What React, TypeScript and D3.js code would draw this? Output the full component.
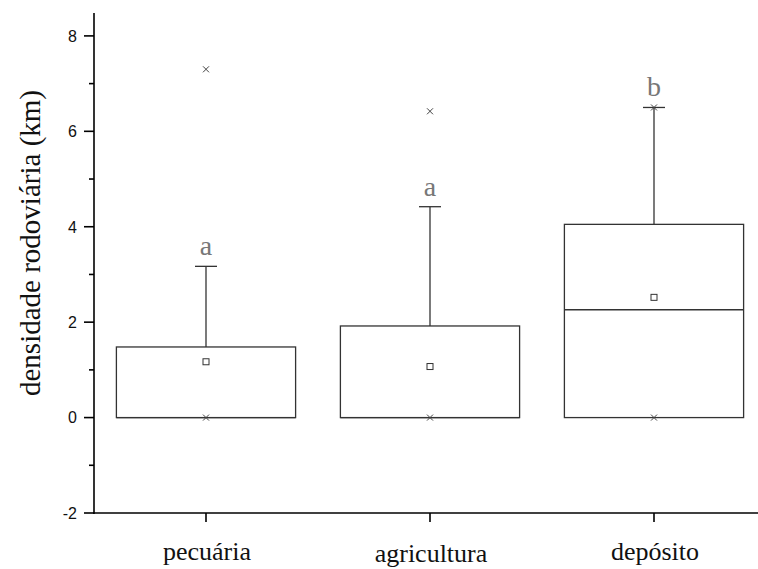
import { scaleBand, scaleLinear } from 'd3'

const categories = ['pecuária', 'agricultura', 'depósito']
const q1 = [0, 0, 0]
const medians = [0, 0, 2.26]
const q3 = [1.48, 1.92, 4.05]
const whiskerLow = [0, 0, 0]
const whiskerHigh = [3.17, 4.42, 6.5]
const means = [1.17, 1.07, 2.52]
const outliers = [[7.3, 0], [6.42, 0], [6.5, 0]]
const letters = ['a', 'a', 'b']
const majorTicks = [-2, 0, 2, 4, 6, 8]
const minorTicks = [-1, 1, 3, 5, 7]

const App = () => {
  const width = 758
  const height = 569

  const x = scaleBand().domain(categories).range([94, 766]).padding(0)
  const y = scaleLinear().domain([-2, 8.48]).range([513, 13])
  const boxW = x.bandwidth() * 0.8
  const capW = 22
  const serif = "'Liberation Serif', 'Times New Roman', serif"
  const sans = "'Liberation Sans', Arial, sans-serif"

  return (
    <svg width={width} height={height} style={{ position: 'absolute', left: 0, top: 0 }}>
      <rect width={width} height={height} fill="#fff" />

      {/* y axis */}
      <line x1={94} x2={94} y1={y(8.48)} y2={y(-2) + 1} stroke="#000" strokeWidth={1.6} />
      {majorTicks.map(t => (
        <g key={t}>
          <line x1={84} x2={94} y1={y(t)} y2={y(t)} stroke="#000" strokeWidth={1.6} />
          <text x={77} y={y(t)} dy="0.36em" textAnchor="end" fontFamily={sans} fontSize={16} fill="#111">
            {t}
          </text>
        </g>
      ))}
      {minorTicks.map(t => (
        <line key={t} x1={89} x2={94} y1={y(t)} y2={y(t)} stroke="#000" strokeWidth={1.6} />
      ))}
      <text
        transform={`translate(30,243) rotate(-90)`}
        textAnchor="middle"
        dy="0.35em"
        fontFamily={serif}
        fontSize={29}
        fill="#111"
      >
        densidade rodoviária (km)
      </text>

      {/* x axis */}
      <line x1={93} x2={width} y1={y(-2)} y2={y(-2)} stroke="#000" strokeWidth={1.6} />
      {categories.map(c => {
        const cx = x(c)! + x.bandwidth() / 2
        return (
          <g key={c}>
            <line x1={cx} x2={cx} y1={y(-2)} y2={y(-2) + 9} stroke="#000" strokeWidth={1.6} />
            <text x={cx + 1} y={c === 'agricultura' ? 562 : 560} textAnchor="middle" fontFamily={serif} fontSize={26} fill="#111">
              {c}
            </text>
          </g>
        )
      })}

      {/* boxes */}
      {categories.map((c, i) => {
        const cx = x(c)! + x.bandwidth() / 2
        const left = cx - boxW / 2
        return (
          <g key={c} stroke="#333" strokeWidth={1.3} fill="none">
            <line x1={cx} x2={cx} y1={y(q3[i])} y2={y(whiskerHigh[i])} />
            <line x1={cx - capW / 2} x2={cx + capW / 2} y1={y(whiskerHigh[i])} y2={y(whiskerHigh[i])} />
            <line x1={cx} x2={cx} y1={y(q1[i])} y2={y(whiskerLow[i])} />
            <rect x={left} y={y(q3[i])} width={boxW} height={y(q1[i]) - y(q3[i])} />
            <line x1={left} x2={left + boxW} y1={y(medians[i])} y2={y(medians[i])} />
            <rect x={cx - 3} y={y(means[i]) - 3} width={6} height={6} strokeWidth={1} />
            {outliers[i].map((o, j) => (
              <path
                key={j}
                d={`M${cx - 3},${y(o) - 3}L${cx + 3},${y(o) + 3}M${cx - 3},${y(o) + 3}L${cx + 3},${y(o) - 3}`}
                stroke="#444"
                strokeWidth={1}
              />
            ))}
            <text
              x={cx}
              y={y(whiskerHigh[i]) - 11}
              textAnchor="middle"
              fontFamily={serif}
              fontSize={28}
              fill="#777"
              stroke="none"
            >
              {letters[i]}
            </text>
          </g>
        )
      })}
    </svg>
  )
}

export default App
